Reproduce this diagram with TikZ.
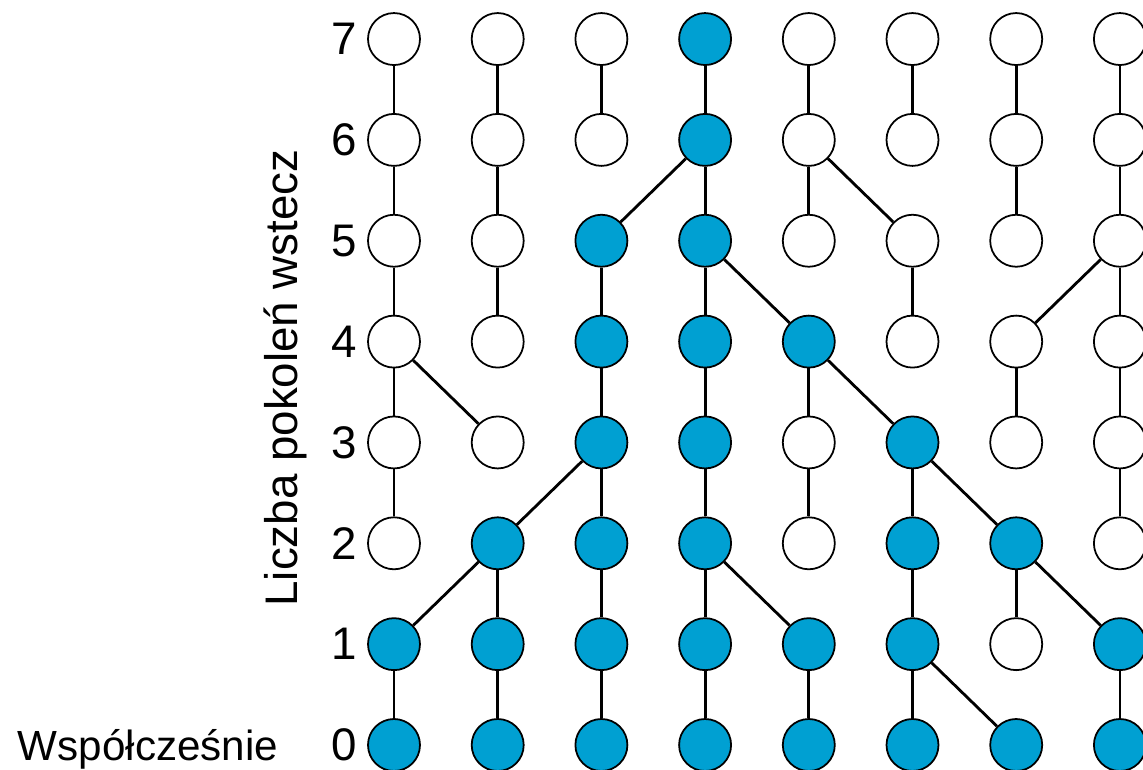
\documentclass[tikz,border=0pt]{standalone}
\usepackage{fontspec}
\setmainfont{Liberation Sans}
\usetikzlibrary{positioning}
\definecolor{Ac}{HTML}{00A0D2}

\begin{document}
\begin{tikzpicture}[x=2.074cm, y=2.017cm,
    dot/.style={circle, draw, line width=1pt, minimum size=1.04cm, inner sep=0pt, fill=white},
    anc/.style={dot, fill=Ac},
    lnk/.style={line width=1.6pt},
    lab/.style={font=\fontsize{24}{28}\selectfont, inner sep=0pt},
    num/.style={font=\fontsize{26}{30}\selectfont, inner sep=0pt}]
  \useasboundingbox (-7.88cm,-0.48cm) rectangle (14.98cm,14.9cm);
  \clip (-7.88cm,-0.48cm) rectangle (14.98cm,14.9cm);
  % lineages that die out
  \foreach \c/\r in {1/2,1/3,1/4,1/5,1/6,1/7, 2/3,2/4,2/5,2/6,2/7, 3/6,3/7,
      5/2,5/3,5/5,5/6,5/7, 6/4,6/5,6/6,6/7, 7/1,7/3,7/4,7/5,7/6,7/7,
      8/2,8/3,8/4,8/5,8/6,8/7}
    \node[dot] (n\c\r) at (\c-1,\r) {};
  % ancestors of today's generation
  \foreach \c/\r in {1/0,1/1, 2/0,2/1,2/2, 3/0,3/1,3/2,3/3,3/4,3/5,
      4/0,4/1,4/2,4/3,4/4,4/5,4/6,4/7, 5/0,5/1,5/4, 6/0,6/1,6/2,6/3,
      7/0,7/2, 8/0,8/1}
    \node[anc] (n\c\r) at (\c-1,\r) {};
  % parent -> child
  \foreach \a/\b in {17/16,16/15,15/14,14/13,13/12,11/10,
      27/26,26/25,25/24,22/21,21/20,
      37/36,35/34,34/33,33/32,32/31,31/30,
      47/46,46/45,45/44,44/43,43/42,42/41,41/40,
      57/56,56/55,54/53,53/52,51/50,
      67/66,65/64,63/62,62/61,61/60,
      77/76,76/75,74/73,72/71,
      87/86,86/85,85/84,84/83,83/82,81/80,
      14/23,11/22,22/33,35/46,45/54,42/51,
      56/65,54/63,63/72,61/70,74/85,72/81}
    \draw[lnk] (n\a) -- (n\b);
  % generation numbers
  \foreach \r in {0,...,7}
    \node[num, left=0.2cm of n1\r] (g\r) {\r};
  \node[lab, base left=1.05cm of g0] (now) {Współcześnie};
  \node[num, rotate=90, anchor=base] (axis) at (-0.926,3.64) {Liczba pokoleń wstecz};
\end{tikzpicture}
\end{document}
